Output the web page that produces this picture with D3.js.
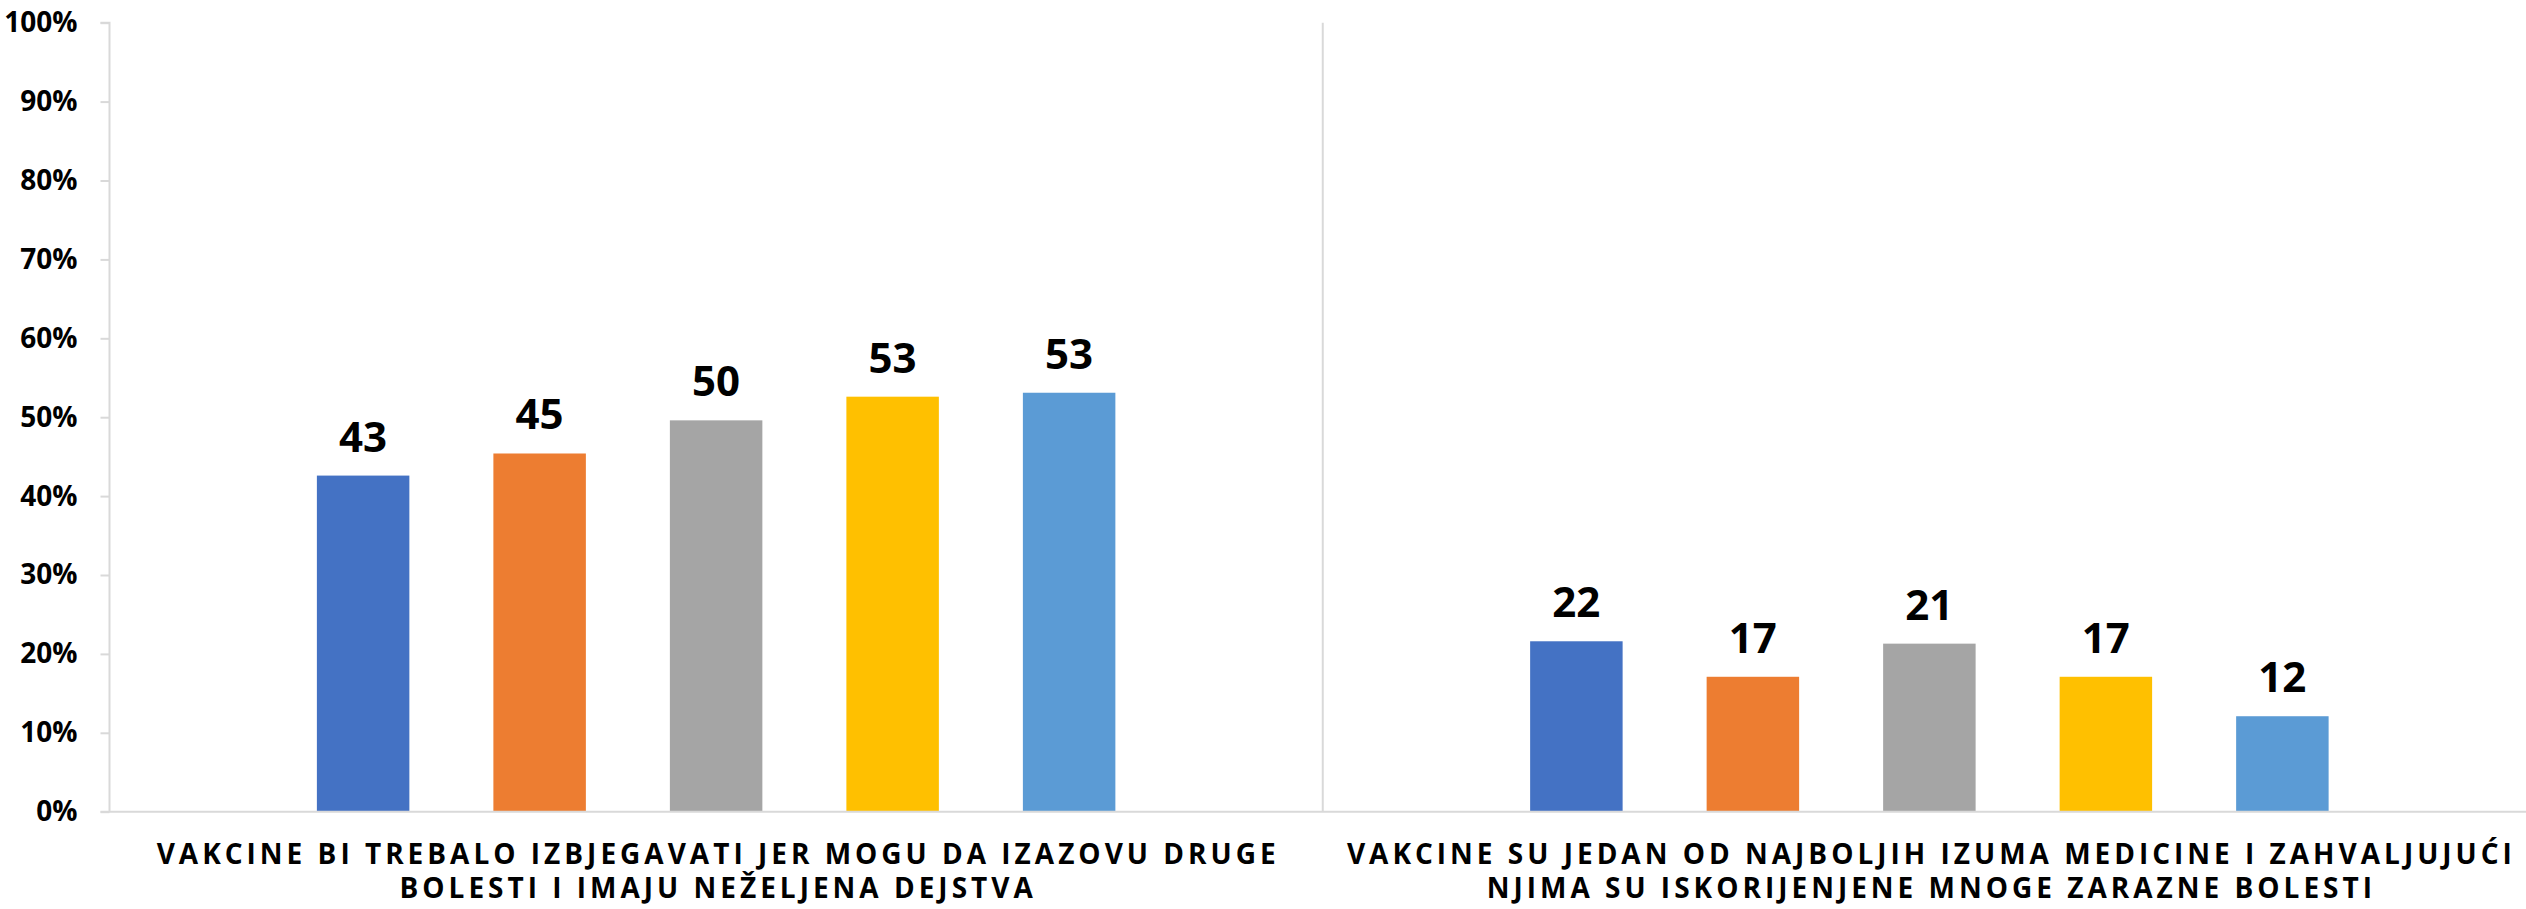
<!DOCTYPE html>
<html>
<head>
<meta charset="utf-8">
<script src="https://cdn.jsdelivr.net/npm/d3@7"></script>
<style>
  html, body { margin: 0; padding: 0; background: #ffffff; }
  svg { display: block; }
  text { font-family: "Open Sans", "Noto Sans", sans-serif; font-weight: 700; fill: #000; }
</style>
</head>
<body>
<svg id="chart" width="2526" height="909"></svg>
<script>
// ---- data ----
const categories = [
  ["VAKCINE BI TREBALO IZBJEGAVATI JER MOGU DA IZAZOVU DRUGE", "BOLESTI I IMAJU NEŽELJENA DEJSTVA"],
  ["VAKCINE SU JEDAN OD NAJBOLJIH IZUMA MEDICINE I ZAHVALJUJUĆI", "NJIMA SU ISKORIJENJENE MNOGE ZARAZNE BOLESTI"]
];
const seriesNames = ["S1", "S2", "S3", "S4", "S5"];
const seriesColors = ["#4472C4", "#ED7D31", "#A5A5A5", "#FFC000", "#5B9BD5"];
// values per series, one entry per category
const series1 = [42.6, 21.6];
const series2 = [45.4, 17.1];
const series3 = [49.6, 21.3];
const series4 = [52.6, 17.1];
const series5 = [53.1, 12.1];
const seriesValues = [series1, series2, series3, series4, series5];
const yTicks = [0, 10, 20, 30, 40, 50, 60, 70, 80, 90, 100];

(function () {
// ---- layout ----
const svg = d3.select("#chart");
const W = 2526, H = 909;
const mLeft = 109.5, mRight = 2536, mTop = 22.7, mBottom = 811.7;
const gridColor = "#d9d9d9";
const letterSp = 4;

const x0 = d3.scaleBand().domain(d3.range(categories.length)).range([mLeft, mRight]).paddingInner(0).paddingOuter(0);
const clusterW = 5 * 176.5;
const x1 = d3.scaleBand().domain(seriesNames).range([-clusterW / 2, clusterW / 2]).paddingInner(0.476).paddingOuter(0.238);
const y = d3.scaleLinear().domain([0, 100]).range([mBottom, mTop]);

// category separators (vertical lines between categories)
const seps = d3.range(1, categories.length).map(i => x0(i));
svg.selectAll("line.sep").data(seps).enter().append("line")
  .attr("class", "sep")
  .attr("x1", d => d).attr("x2", d => d)
  .attr("y1", y(100)).attr("y2", y(0))
  .attr("stroke", gridColor).attr("stroke-width", 2);

// bars
const flat = [];
categories.forEach((c, ci) => {
  seriesNames.forEach((s, si) => {
    flat.push({ ci, si, s, v: seriesValues[si][ci] });
  });
});
const barG = svg.append("g");
barG.selectAll("rect").data(flat).enter().append("rect")
  .attr("x", d => x0(d.ci) + x0.bandwidth() / 2 + x1(d.s))
  .attr("width", x1.bandwidth())
  .attr("y", d => y(d.v))
  .attr("height", d => y(0) - y(d.v))
  .attr("fill", d => seriesColors[d.si]);

// value labels
barG.selectAll("text.val").data(flat).enter().append("text")
  .attr("class", "val")
  .attr("x", d => x0(d.ci) + x0.bandwidth() / 2 + x1(d.s) + x1.bandwidth() / 2)
  .attr("y", d => y(d.v) - 24)
  .attr("text-anchor", "middle")
  .style("font-size", "42px")
  .text(d => Math.round(d.v));

// y axis
const yAxis = d3.axisLeft(y).tickValues(yTicks).tickFormat(d => d + "%").tickSize(9).tickPadding(23);
const yg = svg.append("g").attr("transform", `translate(${mLeft},0)`).call(yAxis);
yg.select(".domain").attr("stroke", gridColor).attr("stroke-width", 2).attr("d", `M-9,${mTop}H0V${mBottom}`);
yg.selectAll(".tick line").attr("stroke", gridColor).attr("stroke-width", 2);
yg.selectAll(".tick text").style("font-size", "28px").style("font-family", "'Open Sans', sans-serif").style("font-weight", 700).attr("fill", "#000");

// x axis line
svg.append("line")
  .attr("x1", mLeft - 9).attr("x2", W)
  .attr("y1", mBottom).attr("y2", mBottom)
  .attr("stroke", gridColor).attr("stroke-width", 2);

// category labels
const catG = svg.selectAll("g.cat").data(categories).enter().append("g").attr("class", "cat");
catG.each(function (lines, ci) {
  const g = d3.select(this);
  lines.forEach((ln, li) => {
    g.append("text")
      .attr("x", x0(ci) + x0.bandwidth() / 2 + letterSp / 2)
      .attr("y", 864 + li * 34)
      .attr("text-anchor", "middle")
      .style("font-size", "28px")
      .style("letter-spacing", letterSp + "px")
      .text(ln);
  });
});
})();
</script>
</body>
</html>
